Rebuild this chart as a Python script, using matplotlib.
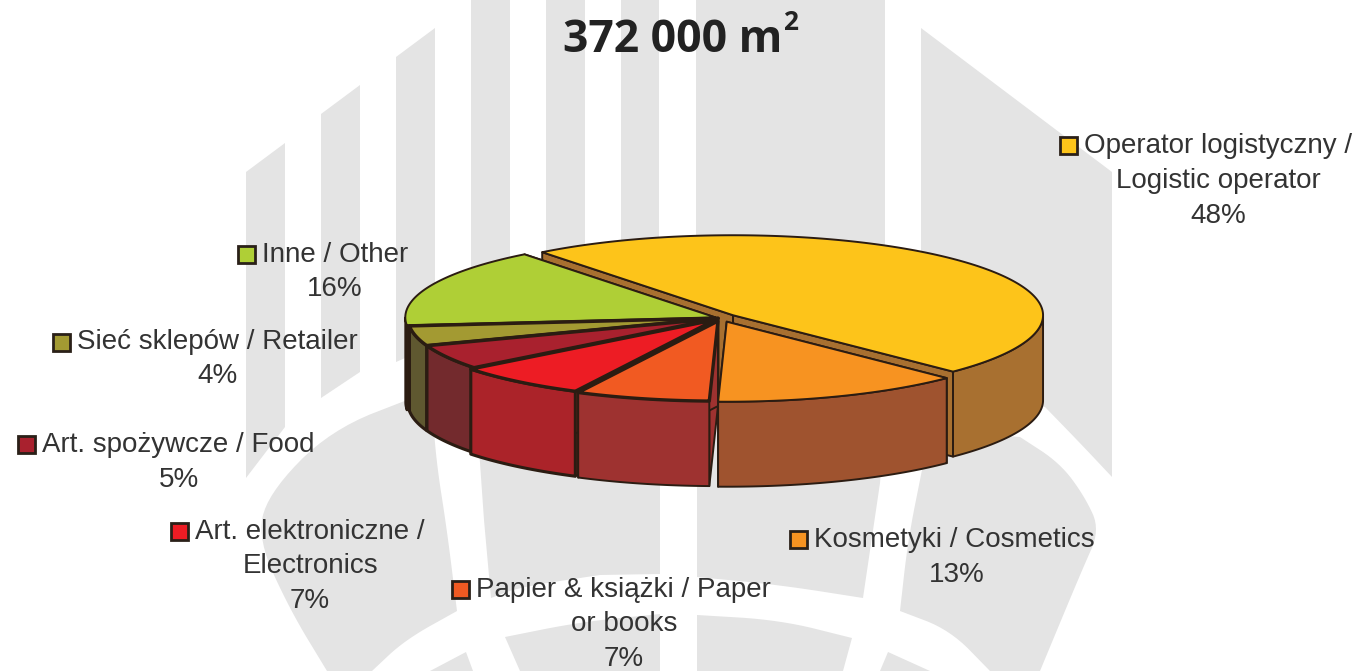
import numpy as np
import matplotlib
matplotlib.use('Agg')
import matplotlib.pyplot as plt
from matplotlib.patches import Polygon, Rectangle

# chart data, clockwise from the start angle
categories = ['Operator logistyczny / Logistic operator', 'Kosmetyki / Cosmetics',
              'Papier & książki / Paper or books', 'Art. elektroniczne / Electronics',
              'Art. spożywcze / Food', 'Sieć sklepów / Retailer', 'Inne / Other']
shares = [48, 13, 7, 7, 5, 4, 16]

label_lines = [['Operator logistyczny /', 'Logistic operator'],
               ['Kosmetyki / Cosmetics'],
               ['Papier & książki / Paper', 'or books'],
               ['Art. elektroniczne /', 'Electronics'],
               ['Art. spożywcze / Food'],
               ['Sieć sklepów / Retailer'],
               ['Inne / Other']]

top_colors = ['#fdc41a', '#f79321', '#f15a22', '#ed1c24', '#a9212e', '#a39a32', '#afcf36']
side_colors = ['#a87030', '#9f532f', '#9e3230', '#ab2329', '#732a2d', '#5f5830', '#5f5a30']
explode = [0.052, 0.05, 0.04, 0.03, 0.01, 0.01, 0.02]

# (square x, square y, second line centre x, line ys, pct x, pct y)
label_pos = [(1059, 136, 1218, [146, 181], 1218, 216),
             (789, 530, None, [540], 957, 575),
             (451, 580, 624, [590, 624], 624, 659),
             (170, 522, 311, [532, 566], 310, 601),
             (17, 435, None, [445], 179, 480),
             (52, 333, None, [342], 218, 376),
             (237, 245, None, [255], 335, 289)]

cx, cy = 721, 318
a, b = 310, 80
height = 85
start = 128
edge = '#2b1c12'
gray = '#e4e4e4'
text_col = '#333333'

plt.rcParams['font.family'] = ['Liberation Sans', 'DejaVu Sans']
fig = plt.figure(figsize=(13.59, 6.71), dpi=100)
ax = fig.add_axes([0, 0, 1, 1])
ax.set_xlim(0, 1359)
ax.set_ylim(671, 0)
ax.axis('off')


def chaikin(pts, n=3):
    pts = np.array(pts, dtype=float)
    for i in range(n):
        q = 0.75 * pts[:-1] + 0.25 * pts[1:]
        r = 0.25 * pts[:-1] + 0.75 * pts[1:]
        new = np.empty((len(q) * 2, 2))
        new[0::2] = q
        new[1::2] = r
        pts = np.vstack([pts[0], new, pts[-1]])
    return pts


def bg(pts):
    ax.add_patch(Polygon(pts, closed=True, fc=gray, ec='none', zorder=1))


# watermark behind the chart
bg([(246, 172), (285, 143), (285, 427), (246, 478)])
bg([(321, 114), (360, 85), (360, 372), (321, 398)])
bg([(396, 57), (435, 28), (435, 345), (396, 362)])
for x0, x1 in [(471, 510), (546, 585), (621, 659), (696, 885)]:
    bg([(x0, 0), (x1, 0), (x1, 330), (x0, 330)])
bg(np.vstack([[(921, 28), (1112, 172), (1112, 477)],
              chaikin([(1112, 477), (1080, 443), (1045, 407)]),
              [(921, 380)]]))

left_lobe = np.vstack([chaikin([(420, 395), (330, 430), (267, 495), (258, 540), (290, 610), (327, 671)]),
                       chaikin([(372, 671), (405, 640), (457, 611)]),
                       chaikin([(457, 611), (447, 530), (436, 460), (432, 400)])])
bg(left_lobe)
bg([(430, 671), (466, 652), (473, 671)])
bg(np.vstack([[(477, 420), (660, 420), (660, 574)],
              chaikin([(600, 575), (520, 587), (491, 598)]),
              [(484, 520)]]))
bg(np.vstack([[(697, 420), (885, 420), (880, 483), (863, 598)],
              chaikin([(863, 598), (780, 585), (697, 577)])]))
bg(np.vstack([[(925, 430), (1020, 437)],
              chaikin([(1020, 437), (1060, 463), (1085, 497), (1100, 530), (1082, 570), (1040, 671)]),
              chaikin([(990, 671), (950, 630), (900, 611)]),
              chaikin([(900, 611), (908, 540), (922, 470)])]))
# lower caps under the band
bg(np.vstack([chaikin([(505, 637), (580, 622), (660, 614)]), [(660, 671), (520, 671)]]))
bg(np.vstack([chaikin([(697, 615), (780, 620), (852, 638)]), [(843, 671), (697, 671)]]))
bg([(888, 652), (930, 671), (880, 671)])

# angles of the slices come from the shares
sweeps = np.array(shares) / float(sum(shares)) * 360.0
ends = start - np.cumsum(sweeps)
starts = ends + sweeps


def ell(c, ang):
    ang = np.radians(ang)
    return np.column_stack([c[0] + a * np.cos(ang), c[1] - b * np.sin(ang)])


centres = []
for i in range(len(shares)):
    mid = np.radians((starts[i] + ends[i]) / 2.0)
    centres.append((cx + explode[i] * a * np.cos(mid), cy - explode[i] * b * np.sin(mid)))


def add(pts, color, z, lw=1.4):
    ax.add_patch(Polygon(pts, closed=True, fc=color, ec=edge, lw=lw, joinstyle='round', zorder=z))


# painter's order: back slice first
order = [0, 6, 5, 4, 3, 1, 2]
z = 5
for i in order:
    c = centres[i]
    heavy = i in (2, 3, 4, 5)
    s_pt = ell(c, [starts[i]])[0]
    e_pt = ell(c, [ends[i]])[0]
    down = np.array([0, height])
    add([c, s_pt, s_pt + down, np.array(c) + down], side_colors[i], z)
    add([c, e_pt, e_pt + down, np.array(c) + down], side_colors[i], z + 0.1)
    # outer wall, only the part facing the viewer
    angs = np.linspace(starts[i], ends[i], 200)
    front = angs[np.sin(np.radians(angs)) <= 0]
    if len(front) > 1:
        top_edge = ell(c, front)
        add(np.vstack([top_edge, top_edge[::-1] + down]), side_colors[i], z + 0.2,
            lw=2.2 if i in (3, 4, 5) else 1.4)
    arc = ell(c, angs)
    add(np.vstack([[c], arc]), top_colors[i], z + 0.3, lw=2.4 if heavy else 1.4)
    z += 1

# labels with their colour squares
fs = 20
for i in range(len(shares)):
    sx, sy, lx, ys, px, py = label_pos[i]
    ax.add_patch(Rectangle((sx + 1, sy + 1), 17, 17, fc=top_colors[i], ec='#2a2018', lw=2, zorder=20))
    ax.text(sx + 25, ys[0], label_lines[i][0], fontsize=fs, color=text_col, ha='left', va='center', zorder=21)
    if lx is not None:
        ax.text(lx, ys[1], label_lines[i][1], fontsize=fs, color=text_col, ha='center', va='center', zorder=21)
    ax.text(px, py, '%d%%' % shares[i], fontsize=fs, color=text_col, ha='center', va='center', zorder=21)

ax.text(563, 52, '372 000 m', fontsize=32, fontweight='bold', family=['Open Sans', 'DejaVu Sans'],
        color='#222222', ha='left', va='baseline', zorder=21)
ax.text(783, 30, '2', fontsize=19, fontweight='bold', family=['Open Sans', 'DejaVu Sans'],
        color='#222222', ha='left', va='baseline', zorder=21)

fig.savefig('out.png', dpi=100)
